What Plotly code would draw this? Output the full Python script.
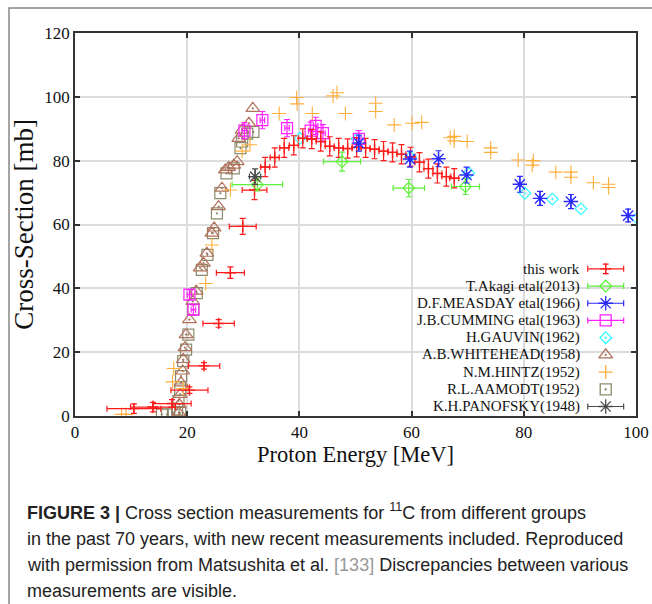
import plotly.graph_objects as go

# ---------------- data ----------------
# this work (red)
E_this = [10.5, 13.9, 17.3, 20.4, 23.0, 25.6, 27.7, 29.9, 32.0,
          33.9, 35.6, 37.3, 39.0, 40.6, 42.2, 43.8, 45.4, 47.0, 48.6, 50.2,
          51.8, 53.4, 55.0, 56.6, 58.2, 59.8, 61.4, 63.0, 64.6, 66.2, 67.6]
S_this = [2.3, 2.8, 3.9, 8.1, 15.7, 29.0, 44.9, 59.4, 70.8,
          78.0, 81.0, 84.0, 84.8, 87.0, 86.8, 86.0, 84.5, 84.0, 83.8, 84.2,
          84.0, 83.6, 83.0, 82.6, 82.0, 81.2, 79.5, 77.5, 76.0, 75.0, 74.5]
EX_this = [4.8, 4.0, 3.4, 3.3, 2.8, 2.8, 2.5, 2.4, 2.2,
           0.8, 0.8, 0.8, 0.8, 0.8, 0.8, 0.8, 0.8, 0.8, 0.8, 0.8,
           0.8, 0.8, 0.8, 0.8, 0.8, 0.8, 0.8, 0.8, 0.8, 0.8, 0.8]
SY_this = [1.5, 1.5, 1.2, 1.0, 1.0, 1.2, 1.8, 2.5, 3.0,
           3.0, 3.0, 3.0, 3.0, 3.0, 3.0, 3.0, 3.0, 3.0, 3.0, 3.0,
           3.0, 3.0, 3.0, 3.0, 3.0, 3.0, 3.0, 3.0, 3.0, 3.0, 3.0]

# T.Akagi etal (2013)
E_akagi = [32.5, 47.6, 59.5, 69.6]
S_akagi = [72.5, 79.7, 71.4, 71.9]
EX_akagi = [4.5, 3.3, 2.8, 2.5]
SY_akagi = [2.0, 3.0, 2.7, 2.5]

# D.F.MEASDAY etal (1966)
E_measday = [50.6, 59.7, 64.8, 69.8, 79.3, 82.9, 88.4, 98.6]
S_measday = [85.5, 80.5, 80.6, 75.5, 72.6, 68.2, 67.2, 62.8]
SY_measday = [2.5, 2.5, 2.5, 2.5, 2.5, 2.2, 2.2, 2.0]

# J.B.CUMMING etal (1963)
E_cumming = [20.4, 21.1, 30.2, 33.4, 37.8, 42.0, 42.9, 44.2, 50.6]
S_cumming = [38.0, 33.3, 89.4, 92.7, 90.2, 89.4, 90.9, 88.6, 86.8]
SY_cumming = [1.5, 1.5, 2.5, 2.7, 2.7, 2.7, 2.7, 2.7, 2.6]

# H.GAUVIN (1962)
E_gauvin = [40.1, 50.3, 59.8, 70.2, 80.2, 85.1, 90.2, 100.2]
S_gauvin = [87.0, 86.8, 81.2, 76.1, 69.8, 68.0, 64.9, 62.0]

# A.B.WHITEHEAD (1958)
E_white = [18.5, 18.6, 18.75, 18.9, 19.2, 19.3, 19.6, 19.8, 20.4, 21.0, 21.6,
           22.3, 22.9, 23.5, 24.4, 24.8, 25.6, 26.2, 26.8, 27.4, 28.3, 28.9,
           29.2, 29.8, 31.0, 31.7]
S_white = [1.0, 3.6, 6.8, 10.4, 14.1, 17.7, 21.4, 25.5, 30.2, 35.9, 39.1,
           46.4, 47.9, 51.0, 57.3, 58.9, 65.6, 71.4, 77.1, 77.9, 78.6, 79.7,
           87.0, 89.6, 91.7, 96.4]

# N.M.HINTZ (1952)
E_hintz = [8.3, 9.1, 17.4, 17.6, 19.3, 23.3, 24.4, 27.7, 29.8, 31.2,
           36.4, 39.5, 39.6, 42.3, 46.0, 46.7, 48.2, 53.6, 53.6, 56.9,
           60.1, 61.8, 66.9, 67.6, 67.6, 69.9, 74.1, 74.1, 79.0, 81.5,
           81.7, 85.7, 88.4, 88.4, 92.4, 95.1, 95.1]
S_hintz = [0.5, 0.5, 10.7, 14.9, 8.6, 41.5, 53.6, 70.8, 83.0, 85.0,
           94.8, 99.8, 97.8, 94.8, 100.3, 101.3, 94.8, 98.0, 95.4, 91.2,
           91.7, 92.0, 87.2, 87.6, 86.2, 86.0, 84.0, 82.6, 80.2, 78.6,
           80.0, 76.4, 76.4, 74.8, 73.1, 72.6, 71.6]

# R.L.AAMODT (1952)
E_aamodt = [15.5, 16.4, 17.6, 18.2, 18.45, 18.75, 18.75, 18.9, 19.3, 19.8, 20.2,
            21.1, 21.7, 22.6, 23.6, 24.6, 25.3, 25.9, 27.0, 28.3, 29.5, 29.8,
            30.7, 31.8]
S_aamodt = [0.5, 0.5, 1.0, 2.1, 4.7, 1.0, 8.3, 12.5, 17.2, 20.8, 25.5,
            33.3, 38.5, 45.8, 50.5, 57.3, 63.5, 69.8, 76.0, 77.6, 83.9, 86.0,
            88.5, 89.0]

# K.H.PANOFSKY (1948)
E_panof = [32.1]
S_panof = [75.0]
EX_panof = [1.0]
SY_panof = [2.4]

legend_labels = ["this work", "T.Akagi etal(2013)", "D.F.MEASDAY etal(1966)",
                 "J.B.CUMMING etal(1963)", "H.GAUVIN(1962)", "A.B.WHITEHEAD(1958)",
                 "N.M.HINTZ(1952)", "R.L.AAMODT(1952)", "K.H.PANOFSKY(1948)"]

x_ticks = [0, 20, 40, 60, 80, 100]
y_ticks = [0, 20, 40, 60, 80, 100, 120]

# ---------------- styles ----------------
RED = "#ff1a1a"
GREEN = "#5ef03a"
BLUE = "#2a2aff"
MAGENTA = "#ff22ff"
CYAN = "#33ffff"
BROWN = "#b0705a"
ORANGE = "#ffae3a"
OLIVE = "#8c8a6c"
GRAY = "#4a4a4a"

SERIF = "Liberation Serif, Times New Roman, serif"
CAPFONT = "Liberation Sans, Arial, sans-serif"

W, H = 652, 604
L, R, T, B = 75, 16, 33, 188
PW, PH = W - L - R, H - T - B


def px_x(px):
    return (px - L) / PW


def px_y(py):
    return (H - B - py) / PH


def err(arr, color, width=3, thick=1.2):
    return dict(type="data", array=arr, visible=True, color=color,
                thickness=thick, width=width)


fig = go.Figure()

fig.add_trace(go.Scatter(x=E_aamodt, y=S_aamodt, mode="markers",
    marker=dict(symbol="square-open-dot", size=11, color=OLIVE, line=dict(width=1.2)),
    showlegend=False))
fig.add_trace(go.Scatter(x=E_white, y=S_white, mode="markers",
    marker=dict(symbol="triangle-up-open-dot", size=12, color=BROWN, line=dict(width=1.2)),
    showlegend=False))
fig.add_trace(go.Scatter(x=E_hintz, y=S_hintz, mode="markers",
    marker=dict(symbol="cross-thin-open", size=10, color=ORANGE, line=dict(width=1.1, color=ORANGE)),
    showlegend=False))
fig.add_trace(go.Scatter(x=E_gauvin, y=S_gauvin, mode="markers",
    marker=dict(symbol="diamond-open-dot", size=9, color=CYAN, line=dict(width=1.2)),
    showlegend=False))
fig.add_trace(go.Scatter(x=E_cumming, y=S_cumming, mode="markers",
    marker=dict(symbol="square-open", size=11, color=MAGENTA, line=dict(width=1.2)),
    error_y=err(SY_cumming, MAGENTA), error_x=err([0.4] * len(E_cumming), MAGENTA),
    showlegend=False))
fig.add_trace(go.Scatter(x=E_this, y=S_this, mode="markers",
    marker=dict(symbol="cross-thin-open", size=8, color=RED, line=dict(width=1.4, color=RED)),
    error_x=err(EX_this, RED), error_y=err(SY_this, RED),
    showlegend=False))
fig.add_trace(go.Scatter(x=E_akagi, y=S_akagi, mode="markers",
    marker=dict(symbol="diamond-open", size=9, color=GREEN, line=dict(width=1.2)),
    error_x=err(EX_akagi, GREEN), error_y=err(SY_akagi, GREEN),
    showlegend=False))
fig.add_trace(go.Scatter(x=E_measday, y=S_measday, mode="markers",
    marker=dict(symbol="asterisk-open", size=12, color=BLUE, line=dict(width=1.4, color=BLUE)),
    error_y=err(SY_measday, BLUE), showlegend=False))
fig.add_trace(go.Scatter(x=E_measday, y=S_measday, mode="markers",
    marker=dict(symbol="circle", size=4, color=BLUE), showlegend=False, hoverinfo="skip"))
fig.add_trace(go.Scatter(x=E_panof, y=S_panof, mode="markers",
    marker=dict(symbol="asterisk-open", size=12, color=GRAY, line=dict(width=1.4, color=GRAY)),
    error_x=err(EX_panof, GRAY), error_y=err(SY_panof, GRAY),
    showlegend=False))

# ---------------- key (gnuplot style: label, then sample) ----------------
LEG_X = 94.6        # sample centre (MeV)
LEG_TXT_X = 90.2    # right edge of labels (MeV)
LEG_Y0 = 46.1       # first row (mb)
LEG_DY = 5.39       # row step (mb)
LEG_BAR = 3.2       # half length of sample error bar (MeV)

key_styles = [
    dict(symbol="cross-thin-open", size=8, color=RED, bars=True),
    dict(symbol="diamond-open", size=9, color=GREEN, bars=True),
    dict(symbol="asterisk-open", size=12, color=BLUE, bars=True),
    dict(symbol="square-open", size=11, color=MAGENTA, bars=True),
    dict(symbol="diamond-open-dot", size=9, color=CYAN, bars=False),
    dict(symbol="triangle-up-open-dot", size=12, color=BROWN, bars=False),
    dict(symbol="cross-thin-open", size=10, color=ORANGE, bars=False),
    dict(symbol="square-open-dot", size=11, color=OLIVE, bars=False),
    dict(symbol="asterisk-open", size=12, color=GRAY, bars=True),
]
for i, (lab, st) in enumerate(zip(legend_labels, key_styles)):
    yy = LEG_Y0 - i * LEG_DY
    kw = {}
    if st["bars"]:
        kw["error_x"] = err([LEG_BAR], st["color"], width=3)
        if i == 0:
            kw["error_y"] = err([1.5], st["color"], width=3)
    fig.add_trace(go.Scatter(x=[LEG_X], y=[yy], mode="markers",
        marker=dict(symbol=st["symbol"], size=st["size"], color=st["color"],
                    line=dict(width=1.3, color=st["color"])),
        showlegend=False, hoverinfo="skip", **kw))
    fig.add_annotation(x=LEG_TXT_X, y=yy, xref="x", yref="y", text=lab,
        showarrow=False, xanchor="right", yanchor="middle", borderpad=0,
        font=dict(family=SERIF, size=15, color="#111"))
fig.add_trace(go.Scatter(x=[LEG_X], y=[LEG_Y0 - 2 * LEG_DY], mode="markers",
    marker=dict(symbol="circle", size=4, color=BLUE), showlegend=False, hoverinfo="skip"))

# ---------------- axes ----------------
axis_common = dict(showline=True, linecolor="#333", linewidth=1.5, mirror="ticks",
                   ticks="inside", ticklen=5, tickwidth=1.5, tickcolor="#333",
                   showgrid=True, gridcolor="#dcdcdc", gridwidth=1.5, zeroline=False,
                   tickfont=dict(family=SERIF, size=17, color="#111"))

fig.update_xaxes(range=[0, 100], tickvals=x_ticks, ticktext=[str(v) for v in x_ticks],
                 title=dict(text="Proton Energy [MeV]", standoff=5,
                            font=dict(family=SERIF, size=22.5, color="#111")),
                 **axis_common)
fig.update_yaxes(range=[0, 120], tickvals=y_ticks, ticktext=[str(v) for v in y_ticks],
                 title=dict(text="Cross-Section [mb]", standoff=3,
                            font=dict(family=SERIF, size=27, color="#111")),
                 **axis_common)

# ---------------- caption ----------------
caption_lines = [
    "<b>FIGURE 3 |</b> Cross section measurements for <sup>11</sup>C from different groups",
    "in the past 70 years, with new recent measurements included. Reproduced",
    "with permission from Matsushita et al. <span style='color:#999'>[133]</span> Discrepancies between various",
    "measurements are visible.",
]
caption_y = [511, 539, 565, 591]
for txt, cy in zip(caption_lines, caption_y):
    fig.add_annotation(x=px_x(25), y=px_y(cy), xref="paper", yref="paper", text=txt,
        showarrow=False, xanchor="left", yanchor="middle",
        font=dict(family=CAPFONT, size=18, color="#222"))

# outer frame of the figure panel
fig.add_shape(type="rect", xref="paper", yref="paper",
              x0=px_x(9), x1=px_x(665), y0=px_y(8), y1=px_y(620),
              line=dict(color="#888", width=1.5), layer="below")

fig.update_layout(width=W, height=H, margin=dict(l=L, r=R, t=T, b=B, autoexpand=False),
                  plot_bgcolor="white", paper_bgcolor="white", showlegend=False)

fig.write_html("out.html")
